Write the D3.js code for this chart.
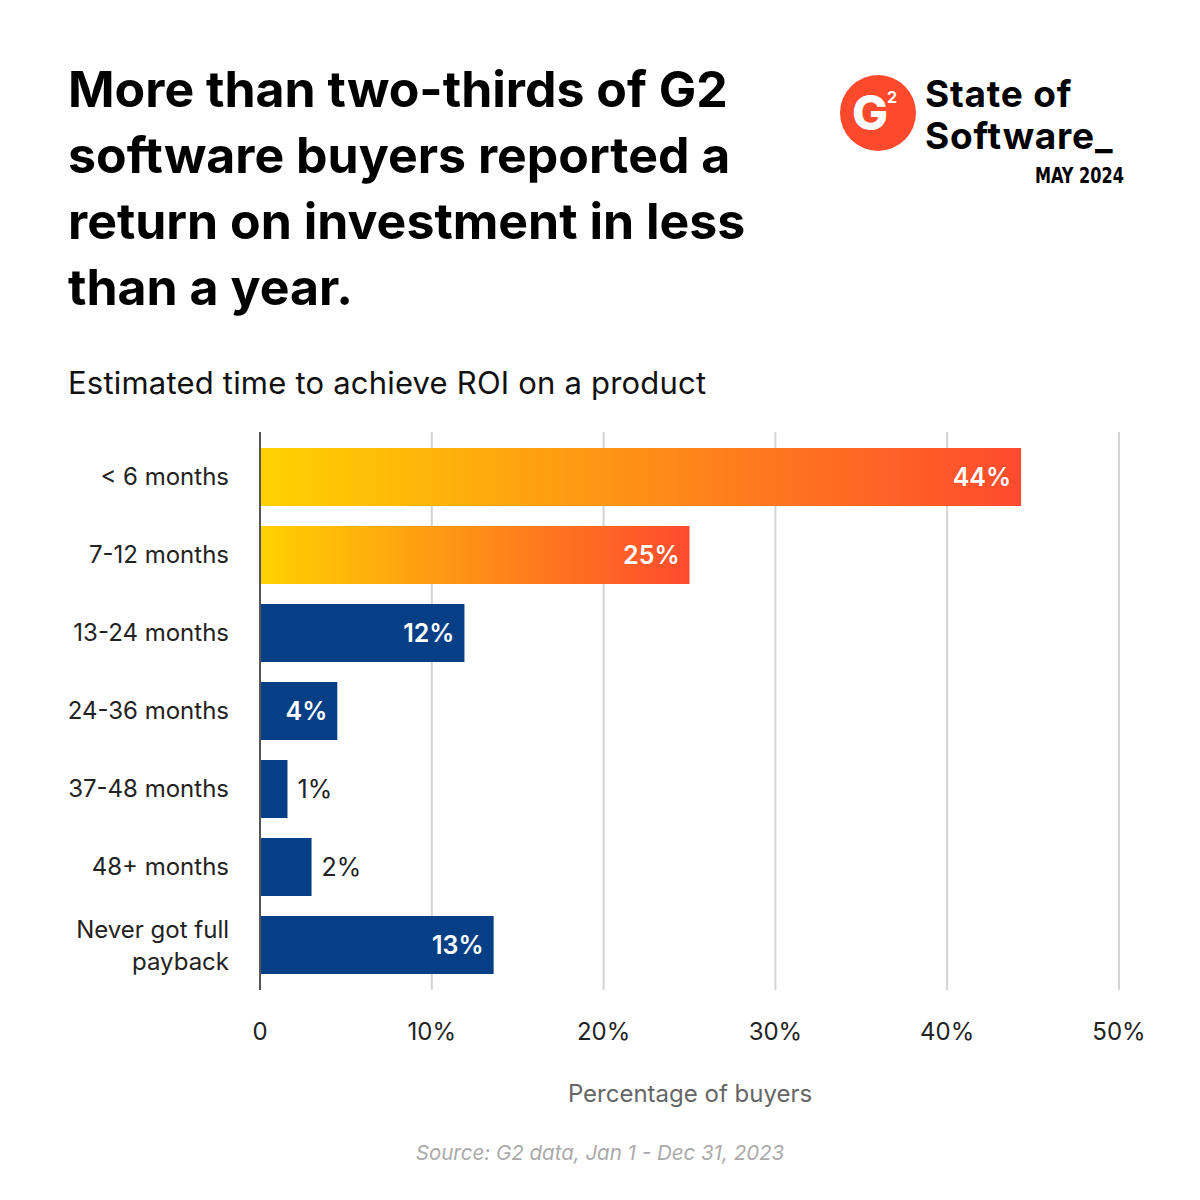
<!DOCTYPE html>
<html><head><meta charset="utf-8">
<script src="https://cdn.jsdelivr.net/npm/d3@7"></script>
<style>body{margin:0;background:#fff}</style>
</head><body><svg id="c" width="1200" height="1200"></svg>
<script>
const categories = ["< 6 months","7-12 months","13-24 months","24-36 months","37-48 months","48+ months","Never got full payback"];
const values = [44.3, 25.0, 11.9, 4.5, 1.6, 3.0, 13.6];
const valueLabels = ["44%","25%","12%","4%","1%","2%","13%"];
const highlight = [true, true, false, false, false, false, false];
const labelInside = [true, true, true, true, false, false, true];
const xTicks = [0,10,20,30,40,50];

const svg = d3.select("#c");
svg.append("rect").attr("width",1200).attr("height",1200).attr("fill","#fff");
const F = "Inter, 'Noto Sans', sans-serif";

// Title
const title = ["More than two-thirds of G2","software buyers reported a","return on investment in less","than a year."];
svg.append("g").selectAll("text").data(title).join("text")
  .attr("x",68).attr("y",(d,i)=>107+i*66)
  .attr("font-family",F).attr("font-weight",700).attr("font-size",50)
  .attr("letter-spacing",0).attr("fill","#000").text(d=>d);

// Logo
const logo = svg.append("g");
logo.append("circle").attr("cx",878).attr("cy",113).attr("r",38).attr("fill","#FF492C");
logo.append("text").attr("x",870).attr("y",130).attr("text-anchor","middle")
  .attr("font-family",F).attr("font-weight",800).attr("font-size",48).attr("fill","#fff").text("G");
logo.append("text").attr("x",892).attr("y",103).attr("text-anchor","middle")
  .attr("font-family",F).attr("font-weight",700).attr("font-size",16).attr("fill","#fff").text("2");
logo.append("text").attr("x",925).attr("y",107).attr("font-family",F).attr("font-weight",700)
  .attr("font-size",37).attr("letter-spacing",0.8).attr("fill","#000").text("State of");
logo.append("text").attr("x",925).attr("y",149).attr("font-family",F).attr("font-weight",700)
  .attr("font-size",37).attr("letter-spacing",0.8).attr("fill","#000").text("Software_");
logo.append("text").attr("x",1124).attr("y",183).attr("text-anchor","end").attr("font-family","'DejaVu Sans Condensed', 'Liberation Sans Narrow', sans-serif")
  .attr("font-weight",700).attr("font-size",21).attr("textLength",89).attr("lengthAdjust","spacingAndGlyphs")
  .attr("fill","#000").text("MAY 2024");

// Subtitle
svg.append("text").attr("x",68).attr("y",394).attr("font-family",F).attr("font-size",31)
  .attr("letter-spacing",0.2).attr("fill","#111").text("Estimated time to achieve ROI on a product");

// Scales
const x = d3.scaleLinear().domain([0,50]).range([260,1119]);
const y = d3.scaleBand().domain(categories).range([438,984]).paddingInner(20/78).paddingOuter(10/78);

// gridlines
svg.append("g").selectAll("line").data(xTicks.slice(1)).join("line")
  .attr("x1",d=>x(d)).attr("x2",d=>x(d)).attr("y1",432).attr("y2",990)
  .attr("stroke","#d4d4d4").attr("stroke-width",2);

// gradient
const defs = svg.append("defs");
const grad = defs.append("linearGradient").attr("id","g1").attr("x1","0").attr("x2","1").attr("y1","0").attr("y2","0");
grad.append("stop").attr("offset","0").attr("stop-color","#FFD200");
grad.append("stop").attr("offset","1").attr("stop-color","#FF4A2E");

// bars
svg.append("g").selectAll("rect").data(categories).join("rect")
  .attr("x",x(0)).attr("y",d=>y(d)).attr("height",y.bandwidth())
  .attr("width",(d,i)=>x(values[i])-x(0))
  .attr("fill",(d,i)=>highlight[i]?"url(#g1)":"#063F86");

// axis line
svg.append("line").attr("x1",x(0)).attr("x2",x(0)).attr("y1",432).attr("y2",990)
  .attr("stroke","#555").attr("stroke-width",2);

// value labels
svg.append("g").selectAll("text").data(categories).join("text")
  .attr("x",(d,i)=>labelInside[i]?x(values[i])-10:x(values[i])+10)
  .attr("y",d=>y(d)+y.bandwidth()/2+9)
  .attr("text-anchor",(d,i)=>labelInside[i]?"end":"start")
  .attr("font-family",F).attr("font-weight",(d,i)=>labelInside[i]?600:400).attr("font-size",25)
  .attr("fill",(d,i)=>labelInside[i]?"#fff":"#222")
  .text((d,i)=>valueLabels[i]);

// category labels
const cl = svg.append("g").selectAll("text").data(categories).join("text")
  .attr("text-anchor","end").attr("font-family",F).attr("font-size",24).attr("fill","#222");
cl.each(function(d){
  const t = d3.select(this);
  const cy = y(d)+y.bandwidth()/2;
  if (d === "Never got full payback") {
    t.append("tspan").attr("x",229).attr("y",cy-7).text("Never got full");
    t.append("tspan").attr("x",229).attr("y",cy+25).text("payback");
  } else {
    t.attr("x",229).attr("y",cy+8).text(d);
  }
});

// x tick labels
svg.append("g").selectAll("text").data(xTicks).join("text")
  .attr("x",d=>x(d)).attr("y",1040).attr("text-anchor","middle")
  .attr("font-family",F).attr("font-size",24).attr("fill","#222")
  .text(d=>d===0?"0":d+"%");

svg.append("text").attr("x",690).attr("y",1102).attr("text-anchor","middle")
  .attr("font-family",F).attr("font-size",24).attr("fill","#666").text("Percentage of buyers");
svg.append("text").attr("x",600).attr("y",1160).attr("text-anchor","middle")
  .attr("font-family",F).attr("font-style","italic").attr("font-size",20.5).attr("fill","#aaa")
  .text("Source: G2 data, Jan 1 - Dec 31, 2023");
</script></body></html>
